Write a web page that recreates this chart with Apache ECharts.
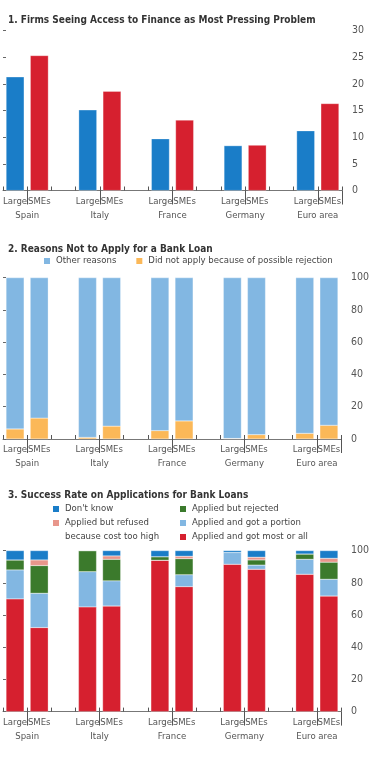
<!DOCTYPE html>
<html>
<head>
<meta charset="utf-8">
<script src="https://cdn.jsdelivr.net/npm/echarts@6/dist/echarts.min.js"></script>
<style>
  html, body { margin: 0; padding: 0; background: #fff; }
  #chart { width: 372px; height: 762px; }
</style>
</head>
<body>
<div id="chart"></div>
<script>
// countries, each with a Large and an SMEs bar
const countries = ['Spain', 'Italy', 'France', 'Germany', 'Euro area']

// 1. firms seeing access to finance as most pressing problem (percent)
const pressingLarge = [21.3, 15.1, 9.7, 8.4, 11.2]
const pressingSmes = [25.3, 18.6, 13.2, 8.5, 16.3]

// 2. reasons not to apply for a bank loan (percent)
const rejectionLarge = [6.2, 1.0, 5.2, 0.3, 3.5]
const rejectionSmes = [13.0, 8.0, 11.2, 2.7, 8.5]
const otherLarge = [93.8, 99.0, 94.8, 99.7, 96.5]
const otherSmes = [87.0, 92.0, 88.8, 97.3, 91.5]

// 3. success rate on applications for bank loans (percent)
const mostAllLarge = [70.0, 65.0, 94.0, 91.5, 85.3]
const mostAllSmes = [52.2, 65.6, 77.6, 88.4, 71.8]
const portionLarge = [18.0, 21.9, 0, 7.3, 9.3]
const portionSmes = [21.3, 15.6, 7.4, 2.6, 10.4]
const rejectedLarge = [6.2, 13.1, 2.2, 0, 3.3]
const rejectedSmes = [17.2, 13.4, 10.0, 3.2, 10.6]
const refusedLarge = [0, 0, 0, 0, 0]
const refusedSmes = [3.5, 2.1, 1.5, 1.7, 2.4]
const dontKnowLarge = [5.8, 0, 3.8, 1.2, 2.1]
const dontKnowSmes = [5.8, 3.3, 3.5, 4.1, 4.8]

const yTicks1 = { min: 0, max: 30, interval: 5 }
const yTicks23 = { min: 0, max: 100, interval: 20 }

// 14 slots: Large, SMEs, gap, ... (no gap after the last country)
const slots = []
countries.forEach((c, i) => {
  slots.push(c + '|Large', c + '|SMEs')
  if (i < countries.length - 1) slots.push(c + '|gap')
})

function toSlots(large, smes) {
  const arr = slots.map(() => null)
  countries.forEach((c, i) => {
    if (large) arr[i * 3] = large[i]
    if (smes) arr[i * 3 + 1] = smes[i]
  })
  return arr
}

const FONT = "'Liberation Sans Narrow', 'DejaVu Sans Condensed', sans-serif"
const C = {
  blue: '#1a7dc8',
  red: '#d6202f',
  light: '#82b7e2',
  orange: '#fbb858',
  green: '#3b7a2c',
  salmon: '#e8968b',
  text: '#333',
  axis: '#555'
}

const panels = [
  { top: 30.5, height: 160, y: yTicks1 },
  { top: 277.7, height: 161.3, y: yTicks23 },
  { top: 550.6, height: 161, y: yTicks23 }
]

const grid = []
const xAxis = []
const yAxis = []
panels.forEach((p, g) => {
  grid.push({ left: 0, width: 342, top: p.top, height: p.height })
  // main category axis: Large / SMEs labels, short inner ticks
  xAxis.push({
    type: 'category', gridIndex: g, data: slots, position: 'bottom',
    axisLine: { lineStyle: { color: '#777', width: 1 } },
    axisTick: { show: true, inside: true, length: 4, interval: 0, lineStyle: { color: '#555' } },
    axisLabel: {
      interval: 0, margin: 6, fontFamily: FONT, fontSize: 9.5, color: C.axis,
      formatter: v => { const s = v.split('|')[1]; return s === 'gap' ? '' : s }
    }
  })
  // long dividers between Large and SMEs
  xAxis.push({
    type: 'category', gridIndex: g, data: slots, position: 'bottom',
    axisLine: { show: false },
    axisTick: { show: true, length: 14, interval: i => i % 3 === 1, lineStyle: { color: '#555' } },
    axisLabel: { show: false }
  })
  // country names centred on the dividers
  xAxis.push({
    type: 'value', gridIndex: g, min: 0, max: 14, interval: 1, position: 'bottom',
    axisLine: { show: false }, axisTick: { show: false }, splitLine: { show: false },
    axisLabel: {
      margin: 20, fontFamily: FONT, fontSize: 9.5, color: C.axis, showMinLabel: true, showMaxLabel: true,
      formatter: v => (v % 3 === 1 ? countries[(v - 1) / 3] : '')
    }
  })
  yAxis.push({
    type: 'value', gridIndex: g, position: 'right', min: p.y.min, max: p.y.max, interval: p.y.interval,
    axisLine: { show: false },
    axisTick: { show: true, length: 3, lineStyle: { color: '#666' } },
    splitLine: { show: false },
    axisLabel: { margin: 10, fontFamily: FONT, fontSize: 10.5, color: C.axis }
  })
  yAxis.push({
    type: 'value', gridIndex: g, position: 'left', min: p.y.min, max: p.y.max, interval: p.y.interval,
    axisLine: { show: false },
    axisTick: { show: true, inside: true, length: 3, lineStyle: { color: '#666' } },
    splitLine: { show: false },
    axisLabel: { show: false }
  })
})

function bar(name, g, data, color, stack) {
  return {
    name, type: 'bar', xAxisIndex: g * 3, yAxisIndex: g * 2, stack,
    barWidth: 18, data, itemStyle: { color, borderColor: '#fff', borderWidth: 0.3 },
    emphasis: { disabled: true }
  }
}

const N_REFUSED = 'Applied but refused because cost too high'

const series = [
  bar('Large', 0, toSlots(pressingLarge, null), C.blue, 'p1'),
  bar('SMEs', 0, toSlots(null, pressingSmes), C.red, 'p1'),
  bar('Did not apply because of possible rejection', 1, toSlots(rejectionLarge, rejectionSmes), C.orange, 'p2'),
  bar('Other reasons', 1, toSlots(otherLarge, otherSmes), C.light, 'p2'),
  bar('Applied and got most or all', 2, toSlots(mostAllLarge, mostAllSmes), C.red, 'p3'),
  bar('Applied and got a portion', 2, toSlots(portionLarge, portionSmes), C.light, 'p3'),
  bar('Applied but rejected', 2, toSlots(rejectedLarge, rejectedSmes), C.green, 'p3'),
  bar(N_REFUSED, 2, toSlots(refusedLarge, refusedSmes), C.salmon, 'p3'),
  bar("Don't know", 2, toSlots(dontKnowLarge, dontKnowSmes), C.blue, 'p3')
]

const titleStyle = { fontFamily: FONT, fontSize: 10, fontWeight: 'bold', color: C.text }
function legendAt(left, top, data, extra) {
  return Object.assign({
    left, top, data, padding: 0, icon: 'rect', itemWidth: 8, itemHeight: 8, itemGap: 0,
    orient: 'vertical', selectedMode: false,
    textStyle: { fontFamily: FONT, fontSize: 9.5, color: '#444', lineHeight: 14 }
  }, extra || {})
}

const chart = echarts.init(document.getElementById('chart'), null, { renderer: 'canvas' })
chart.setOption({
  animation: false,
  title: [
    { text: '1. Firms Seeing Access to Finance as Most Pressing Problem', left: 3, top: 10, textStyle: titleStyle },
    { text: '2. Reasons Not to Apply for a Bank Loan', left: 3, top: 239, textStyle: titleStyle },
    { text: '3. Success Rate on Applications for Bank Loans', left: 3, top: 485, textStyle: titleStyle }
  ],
  legend: [
    legendAt(42, 254, ['Other reasons', 'Did not apply because of possible rejection'], { orient: 'horizontal', itemGap: 18 }),
    legendAt(51, 502, ["Don't know"]),
    // blank first line keeps the icon level with the first text line
    legendAt(51, 502, [N_REFUSED], { formatter: () => ' \nApplied but refused\nbecause cost too high' }),
    legendAt(178, 502, ['Applied but rejected', 'Applied and got a portion', 'Applied and got most or all'])
  ],
  grid, xAxis, yAxis, series
})
</script>
</body>
</html>
